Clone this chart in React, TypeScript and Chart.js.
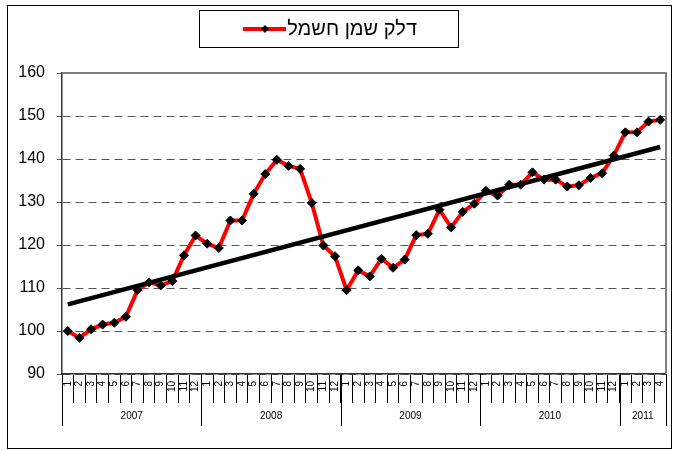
import React, { useEffect, useRef } from "react";
import { Chart, registerables } from "chart.js";

Chart.register(...registerables);

// ---- data ----
const monthLabels = [
  "1","2","3","4","5","6","7","8","9","10","11","12",
  "1","2","3","4","5","6","7","8","9","10","11","12",
  "1","2","3","4","5","6","7","8","9","10","11","12",
  "1","2","3","4","5","6","7","8","9","10","11","12",
  "1","2","3","4",
];
const years = ["2007", "2008", "2009", "2010", "2011"];
const monthsPerYear = [12, 12, 12, 12, 4];

const fuelOilElectricity = [
  100.0, 98.4, 100.4, 101.5, 101.9, 103.3, 109.5, 111.3, 110.6, 111.6, 117.6, 122.2,
  120.3, 119.3, 125.7, 125.7, 131.9, 136.5, 139.8, 138.4, 137.7, 129.8, 119.9, 117.4,
  109.5, 114.1, 112.7, 116.8, 114.7, 116.6, 122.3, 122.6, 128.2, 124.1, 127.7, 129.6,
  132.6, 131.5, 134.0, 134.0, 136.9, 135.2, 135.2, 133.6, 133.9, 135.6, 136.7, 140.8,
  146.2, 146.2, 148.7, 149.1,
];
const trendStart = 106.2;
const trendEnd = 142.8;

const yMin = 90;
const yMax = 160;
const yStep = 10;

const legendLabel = "דלק שמן חשמל";

const trendLine: (number | null)[] = fuelOilElectricity.map((_, i) =>
  i === 0 ? trendStart : i === fuelOilElectricity.length - 1 ? trendEnd : null
);

const decorPlugin = {
  id: "decor",
  beforeDraw(chart: any) {
    const ctx = chart.ctx;
    ctx.save();
    ctx.fillStyle = "#ffffff";
    ctx.fillRect(0, 0, chart.width, chart.height);
    // outer frame
    ctx.strokeStyle = "#000000";
    ctx.lineWidth = 1;
    ctx.strokeRect(7.5, 5.5, 664, 443);
    // legend box
    ctx.strokeRect(199.5, 10.5, 259, 37);
    // legend sample
    ctx.strokeStyle = "#ff0000";
    ctx.lineWidth = 4;
    ctx.beginPath();
    ctx.moveTo(243, 29);
    ctx.lineTo(286, 29);
    ctx.stroke();
    ctx.fillStyle = "#000000";
    ctx.beginPath();
    ctx.moveTo(265, 25);
    ctx.lineTo(269, 29);
    ctx.lineTo(265, 33);
    ctx.lineTo(261, 29);
    ctx.closePath();
    ctx.fill();
    ctx.font = "20px Arial";
    ctx.fillStyle = "#000000";
    (ctx as any).direction = "rtl";
    ctx.textAlign = "right";
    ctx.textBaseline = "middle";
    ctx.fillText(legendLabel, 417, 29);
    ctx.restore();
  },
  beforeDatasetsDraw(chart: any) {
    const { ctx, chartArea } = chart;
    ctx.save();
    ctx.strokeStyle = "#808080";
    ctx.lineWidth = 2;
    ctx.beginPath();
    ctx.moveTo(chartArea.left, chartArea.top);
    ctx.lineTo(chartArea.right, chartArea.top);
    ctx.lineTo(chartArea.right, chartArea.bottom);
    ctx.stroke();
    ctx.restore();
  },
  afterDraw(chart: any) {
    const { ctx, chartArea } = chart;
    const x = chart.scales.x;
    const half = (x.getPixelForValue(1) - x.getPixelForValue(0)) / 2;
    ctx.save();
    ctx.strokeStyle = "#000000";
    ctx.lineWidth = 1;
    ctx.fillStyle = "#000000";
    ctx.font = "10px Arial";
    ctx.textAlign = "center";
    ctx.textBaseline = "middle";
    let start = 0;
    years.forEach((yr, i) => {
      const end = start + monthsPerYear[i] - 1;
      const x0 = x.getPixelForValue(start) - half;
      const x1 = x.getPixelForValue(end) + half;
      ctx.beginPath();
      ctx.moveTo(Math.round(x0) + 0.5, chartArea.bottom);
      ctx.lineTo(Math.round(x0) + 0.5, 426);
      ctx.moveTo(Math.round(x1) + 0.5, chartArea.bottom);
      ctx.lineTo(Math.round(x1) + 0.5, 426);
      ctx.stroke();
      ctx.fillText(yr, (x0 + x1) / 2, 416);
      start = end + 1;
    });
    ctx.restore();
  },
};

export default function App() {
  const canvasRef = useRef<HTMLCanvasElement | null>(null);

  useEffect(() => {
    document.body.style.margin = "0";
    const canvas = canvasRef.current;
    if (!canvas) return;
    const chart = new Chart(canvas, {
      type: "line",
      data: {
        labels: monthLabels,
        datasets: [
          {
            label: "trend",
            data: trendLine,
            borderColor: "#000000",
            borderWidth: 4.5,
            pointRadius: 0,
            spanGaps: true,
            order: 0,
          },
          {
            label: legendLabel,
            data: fuelOilElectricity,
            borderColor: "#ff0000",
            borderWidth: 4,
            pointStyle: "rectRot",
            pointRadius: 4.5,
            pointBackgroundColor: "#000000",
            pointBorderColor: "#000000",
            pointBorderWidth: 1,
            tension: 0,
            order: 1,
          },
        ],
      },
      options: {
        animation: false,
        responsive: false,
        devicePixelRatio: 1,
        layout: { padding: { top: 73, right: 11, left: 0, bottom: 0 } },
        plugins: {
          legend: { display: false },
          tooltip: { enabled: false },
        },
        scales: {
          x: {
            type: "category",
            offset: true,
            afterFit: (s: any) => {
              s.height = 76;
            },
            grid: {
              offset: true,
              drawOnChartArea: false,
              drawTicks: true,
              tickLength: 29,
              color: "#000000",
              lineWidth: 1,
            },
            border: { display: true, color: "#333333", width: 1.5 },
            ticks: {
              autoSkip: false,
              minRotation: 90,
              maxRotation: 90,
              padding: -22,
              color: "#000000",
              font: { family: "Arial", size: 10 },
            },
          },
          y: {
            min: yMin,
            max: yMax,
            afterFit: (s: any) => {
              s.width = 62;
            },
            ticks: {
              stepSize: yStep,
              color: "#000000",
              padding: 12,
              font: { family: "Arial", size: 16 },
            },
            grid: {
              color: "#555555",
              lineWidth: 1,
              tickLength: 5,
            },
            border: { display: true, color: "#333333", width: 1.5, dash: [8, 5] },
          },
        },
      },
      plugins: [decorPlugin],
    });
    return () => chart.destroy();
  }, []);

  return (
    <div style={{ width: 677, height: 450 }}>
      <canvas ref={canvasRef} width={677} height={450} />
    </div>
  );
}
